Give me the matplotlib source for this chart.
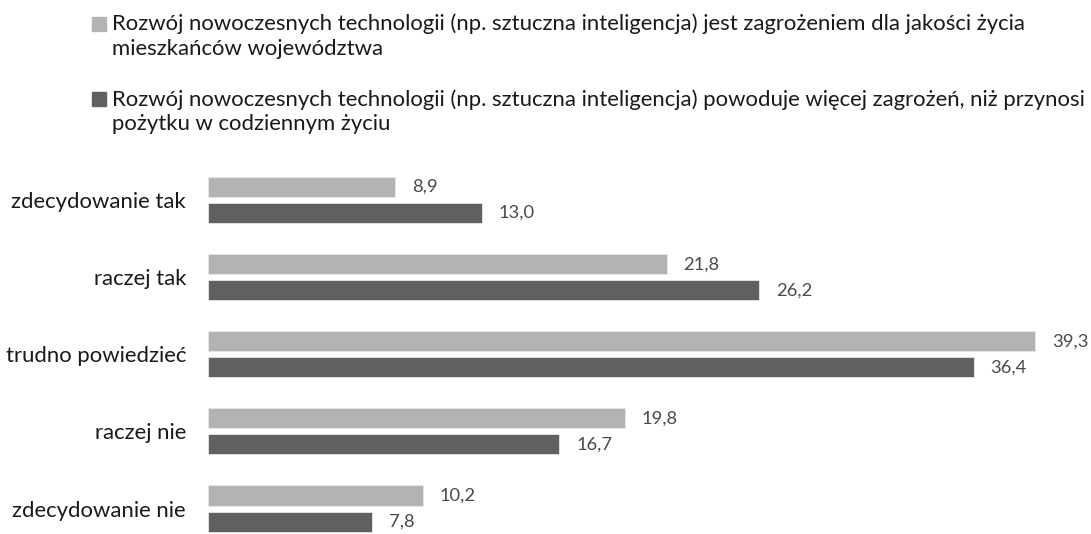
import numpy as np
import matplotlib.pyplot as plt
from matplotlib.patches import Rectangle

plt.rcParams['font.family'] = ['Lato', 'DejaVu Sans']

categories = ["zdecydowanie tak", "raczej tak", "trudno powiedzieć", "raczej nie", "zdecydowanie nie"]
threat_quality = [8.9, 21.8, 39.3, 19.8, 10.2]
more_harm = [13.0, 26.2, 36.4, 16.7, 7.8]
series_labels = [
    ["Rozwój nowoczesnych technologii (np. sztuczna inteligencja) jest zagrożeniem dla jakości życia",
     "mieszkańców województwa"],
    ["Rozwój nowoczesnych technologii (np. sztuczna inteligencja) powoduje więcej zagrożeń, niż przynosi",
     "pożytku w codziennym życiu"],
]
colors = ["#b3b3b3", "#606060"]

W, H = 1091, 534
fig = plt.figure(figsize=(W / 100, H / 100), dpi=100)

# axes spans from bar baseline to the right edge, below the legend block
left_px, top_px = 208, 161.5
ax = fig.add_axes([left_px / W, 0, 1 - left_px / W, (H - top_px) / H])

y = np.arange(len(categories))
bar_h = 0.26
offset = 0.169
for vals, dy, col in zip([threat_quality, more_harm], [-offset, offset], colors):
    ax.barh(y + dy, vals, height=bar_h, color=col, edgecolor="#e8e8e8", linewidth=0.6)
    for yi, v in zip(y + dy, vals):
        ax.text(v + 0.8, yi, f"{v:.1f}".replace(".", ","), va="center", ha="left",
                fontsize=13.2, color="#4a4a4a")

ax.set_xlim(0, (W - left_px) / 21.04)
ax.set_ylim(len(categories) - 1 + 0.33, -0.5)
ax.set_yticks(y)
ax.set_yticklabels(categories, fontsize=15.9, color="#1a1a1a")
ax.tick_params(axis="y", length=0, pad=15.8)
ax.set_xticks([])
for s in ax.spines.values():
    s.set_visible(False)
ax.patch.set_alpha(0)

# legend drawn by hand: square marker plus two text lines
legend_top = [17, 92]
for lines, col, top in zip(series_labels, colors, legend_top):
    fig.patches.append(Rectangle((92 / W, 1 - (top + 14) / H), 14 / W, 14 / H,
                                 transform=fig.transFigure, color=col))
    for i, line in enumerate(lines):
        base = top + 13.5 + 24.5 * i
        fig.text(112 / W, 1 - base / H, line, ha="left", va="baseline", fontsize=15.9,
                 color="#1a1a1a")

fig.savefig("out.png", dpi=100)
